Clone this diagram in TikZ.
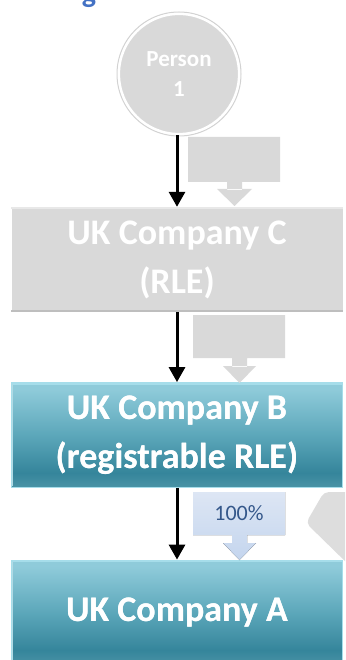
\documentclass[tikz,border=0pt]{standalone}
\usepackage{fontspec}
\setmainfont{Carlito}
\usetikzlibrary{arrows.meta}

\definecolor{boxgray}{HTML}{D9D9D9}
\definecolor{boxgraylight}{HTML}{E8E8E8}
\definecolor{boxgraydark}{HTML}{BEBEBE}
\definecolor{chevgray}{HTML}{DDDDDD}
\definecolor{headblue}{HTML}{4472C4}
\definecolor{pctblue}{HTML}{34578A}
\definecolor{calloutTop}{HTML}{DDE6F4}
\definecolor{calloutBot}{HTML}{C4D5EE}
\definecolor{tealA}{HTML}{8FCBDA}
\definecolor{tealB}{HTML}{5CA7BA}
\definecolor{tealC}{HTML}{35859B}
\definecolor{tealD}{HTML}{4A93A6}
\definecolor{tealEdge}{HTML}{A6DDEA}

% vertical gradient of the teal company boxes (bottom -> top)
\pgfdeclareverticalshading{tealfill}{100bp}{
  color(0bp)=(tealD); color(25bp)=(tealD); color(32bp)=(tealC);
  color(50bp)=(tealB); color(72bp)=(tealA); color(100bp)=(tealA)}

\tikzset{
  boxtext/.style={font=\bfseries\fontsize{36}{49}\selectfont, text=white, align=center},
  graybox/.style={boxtext, rectangle, fill=boxgray, minimum width=331pt, minimum height=105pt, inner sep=0pt},
  tealbox/.style={boxtext, rectangle, shading=tealfill, draw=tealEdge, line width=0.8pt,
                  minimum width=331pt, minimum height=105pt, inner sep=0pt},
  personnode/.style={circle, fill=boxgray, draw=white, line width=2.2pt, minimum size=120pt,
                     inner sep=0pt, font=\bfseries\fontsize{23}{30}\selectfont, text=white, align=center},
  owns/.style={line width=3pt, -{Triangle[width=16pt,length=15pt]}, black},
}

\begin{document}
\begin{tikzpicture}[x=1pt,y=-1pt]
\useasboundingbox (0,0) rectangle (345,660);
\begin{scope}
\clip (0,0) rectangle (345,660);
\fill[white] (0,0) rectangle (345,660);

% heading fragment at the top edge
\node[anchor=base, font=\bfseries\fontsize{30}{36}\selectfont, text=headblue, inner sep=0pt] (head) at (89,3) {g};

% Person 1
\draw[boxgraydark!70, line width=1pt] (179,74) circle (62pt);
\node[personnode] (p1) at (179,74) {Person\\1};

% company boxes
\node[graybox] (c) at (177,259.5) {UK Company C\\(RLE)};
\draw[boxgraylight, line width=1.5pt] ([yshift=-1pt]c.north west) -- ([yshift=-1pt]c.north east);
\draw[boxgraydark, line width=1.5pt] ([yshift=1pt]c.south west) -- ([yshift=1pt]c.south east);

% side arrow pointing at the ownership callout
\fill[chevgray, rounded corners=5pt] (350,492) -- (324,492) -- (306,523) -- (350,566) -- cycle;

\node[tealbox] (b) at (177,435) {UK Company B\\(registrable RLE)};
\node[tealbox] (a) at (177,612.5) {UK Company A};
\foreach \bx in {b,a}{
  \draw[tealEdge, line width=2pt] ([yshift=-1.5pt,xshift=1pt]\bx.north west) -- ([yshift=-1.5pt,xshift=-1pt]\bx.north east);
  \draw[tealA!70!white, line width=1.5pt] ([xshift=1.5pt,yshift=-2pt]\bx.north west) -- ([xshift=1.5pt,yshift=2pt]\bx.south west);
}
\node[boxtext] at (a) {UK Company A};
\node[boxtext] at (b) {UK Company B\\(registrable RLE)};

% ownership connectors
\draw[owns] (p1.south -| c.north) -- (c.north);
\draw[owns] (c.south) -- (b.north);
\draw[owns] (b.south) -- (a.north);

% callout arrows beside the connectors
\fill[boxgray] (188,137) rectangle (280,182)
  (227,181) rectangle (242,190)
  (217,189) -- (252,189) -- (234.5,206) -- cycle;
\fill[boxgray] (193,315) rectangle (285,358)
  (232,357) rectangle (247,367)
  (223,366) -- (256,366) -- (239.5,383) -- cycle;
\fill[top color=calloutTop, bottom color=calloutBot] (193,492) -- (285,492) -- (285,535) -- (247,535)
  -- (247,543) -- (256,543) -- (239.5,560) -- (223,543) -- (232,543) -- (232,535) -- (193,535) -- cycle;
\node[font=\fontsize{22}{26}\selectfont, text=pctblue] (pct) at (239,513) {100\%};
\end{scope}
\end{tikzpicture}
\end{document}
